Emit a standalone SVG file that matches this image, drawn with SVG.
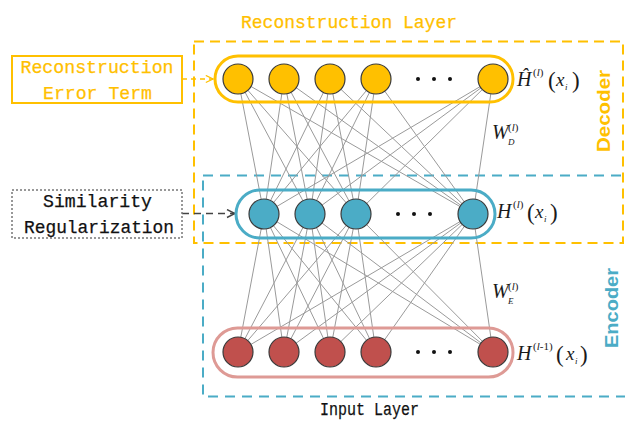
<svg xmlns="http://www.w3.org/2000/svg" width="625" height="421" viewBox="0 0 625 421">
  <defs>
    <style>
      .mono { font-family: "Liberation Mono", "DejaVu Sans Mono", monospace; font-size: 18px; stroke-width: 0.25; }
      .yellow-text { fill: #FFC000; stroke: #FFC000; }
      .dark-text { fill: #111; stroke: #111; }
      .math { font-family: "Liberation Serif", "DejaVu Serif", serif; fill: #1a1a1a; }
      .it { font-style: italic; }
      .edge { stroke: #9a9a9a; stroke-width: 1; fill: none; }
      .node-y { fill: #FFC000; stroke: #3a3a3a; stroke-width: 1.2; }
      .node-b { fill: #4BACC6; stroke: #3a3a3a; stroke-width: 1.2; }
      .node-r { fill: #C0504D; stroke: #3a3a3a; stroke-width: 1.2; }
      .dot { fill: #111; }
      .side { font-family: "Liberation Sans", Arial, sans-serif; font-size: 19px; font-weight: bold; }
    </style>
    <marker id="chev-y" viewBox="0 0 10 10" refX="9" refY="5" markerWidth="9" markerHeight="9" markerUnits="userSpaceOnUse" orient="auto">
      <path d="M1,1 L9,5 L1,9" fill="none" stroke="#FFC000" stroke-width="1.3"/>
    </marker>
    <marker id="chev-g" viewBox="0 0 10 10" refX="9" refY="5" markerWidth="10" markerHeight="10" markerUnits="userSpaceOnUse" orient="auto">
      <path d="M1,1 L9,5 L1,9" fill="none" stroke="#444" stroke-width="1.4"/>
    </marker>
  </defs>

  <rect width="625" height="421" fill="#ffffff"/>

  <!-- decoder / encoder regions -->
  <g id="decoder-region">
    <rect x="194" y="41.5" width="429" height="201.5" fill="none" stroke="#FFC000" stroke-width="2" stroke-dasharray="10,6"/>
    <text class="side" fill="#FFC000" transform="translate(610,111) rotate(-90)" text-anchor="middle" textLength="82" lengthAdjust="spacingAndGlyphs">Decoder</text>
  </g>
  <g id="encoder-region">
    <rect x="203" y="175.5" width="424" height="221" fill="none" stroke="#4BACC6" stroke-width="2" stroke-dasharray="10,7"/>
    <text class="side" fill="#4BACC6" transform="translate(618,308) rotate(-90)" text-anchor="middle" textLength="80" lengthAdjust="spacingAndGlyphs">Encoder</text>
  </g>

  <!-- weight connections -->
  <g id="connectors">
    <g id="decoder-weights" class="edge">
      <line x1="238" y1="79" x2="264" y2="214"/><line x1="238" y1="79" x2="310" y2="214"/><line x1="238" y1="79" x2="356" y2="214"/><line x1="238" y1="79" x2="473" y2="214"/>
      <line x1="284" y1="79" x2="264" y2="214"/><line x1="284" y1="79" x2="310" y2="214"/><line x1="284" y1="79" x2="356" y2="214"/><line x1="284" y1="79" x2="473" y2="214"/>
      <line x1="330" y1="79" x2="264" y2="214"/><line x1="330" y1="79" x2="310" y2="214"/><line x1="330" y1="79" x2="356" y2="214"/><line x1="330" y1="79" x2="473" y2="214"/>
      <line x1="376" y1="79" x2="264" y2="214"/><line x1="376" y1="79" x2="310" y2="214"/><line x1="376" y1="79" x2="356" y2="214"/><line x1="376" y1="79" x2="473" y2="214"/>
      <line x1="493" y1="79" x2="264" y2="214"/><line x1="493" y1="79" x2="310" y2="214"/><line x1="493" y1="79" x2="356" y2="214"/><line x1="493" y1="79" x2="473" y2="214"/>
    </g>
    <g id="encoder-weights" class="edge">
      <line x1="264" y1="214" x2="238" y2="352"/><line x1="264" y1="214" x2="284" y2="352"/><line x1="264" y1="214" x2="330" y2="352"/><line x1="264" y1="214" x2="376" y2="352"/><line x1="264" y1="214" x2="493" y2="352"/>
      <line x1="310" y1="214" x2="238" y2="352"/><line x1="310" y1="214" x2="284" y2="352"/><line x1="310" y1="214" x2="330" y2="352"/><line x1="310" y1="214" x2="376" y2="352"/><line x1="310" y1="214" x2="493" y2="352"/>
      <line x1="356" y1="214" x2="238" y2="352"/><line x1="356" y1="214" x2="284" y2="352"/><line x1="356" y1="214" x2="330" y2="352"/><line x1="356" y1="214" x2="376" y2="352"/><line x1="356" y1="214" x2="493" y2="352"/>
      <line x1="473" y1="214" x2="238" y2="352"/><line x1="473" y1="214" x2="284" y2="352"/><line x1="473" y1="214" x2="330" y2="352"/><line x1="473" y1="214" x2="376" y2="352"/><line x1="473" y1="214" x2="493" y2="352"/>
    </g>
    <line id="error-arrow" x1="182" y1="79" x2="213" y2="79" stroke="#FFC000" stroke-width="1.5" stroke-dasharray="5,4" marker-end="url(#chev-y)"/>
    <line id="similarity-arrow" x1="182" y1="213.5" x2="235" y2="213.5" stroke="#444" stroke-width="1.5" stroke-dasharray="7,5" marker-end="url(#chev-g)"/>
  </g>

  <!-- reconstruction layer -->
  <g id="reconstruction-layer">
    <rect x="215" y="56" width="298" height="46" rx="23" fill="none" stroke="#FFC000" stroke-width="3"/>
    <circle class="node-y" cx="238" cy="79" r="15"/>
    <circle class="node-y" cx="284" cy="79" r="15"/>
    <circle class="node-y" cx="330" cy="79" r="15"/>
    <circle class="node-y" cx="376" cy="79" r="15"/>
    <circle class="node-y" cx="493" cy="79" r="15"/>
    <circle class="dot" cx="418" cy="79" r="2"/><circle class="dot" cx="434" cy="79" r="2"/><circle class="dot" cx="450" cy="79" r="2"/>
  </g>

  <!-- hidden layer -->
  <g id="hidden-layer">
    <rect x="236" y="190" width="259" height="48" rx="24" fill="none" stroke="#4BACC6" stroke-width="3"/>
    <circle class="node-b" cx="264" cy="214" r="15"/>
    <circle class="node-b" cx="310" cy="214" r="15"/>
    <circle class="node-b" cx="356" cy="214" r="15"/>
    <circle class="node-b" cx="473" cy="214" r="15"/>
    <circle class="dot" cx="398" cy="214" r="2"/><circle class="dot" cx="414" cy="214" r="2"/><circle class="dot" cx="430" cy="214" r="2"/>
  </g>

  <!-- input layer -->
  <g id="input-layer">
    <rect x="213" y="328" width="300" height="49" rx="24.5" fill="none" stroke="#DE9A95" stroke-width="3"/>
    <circle class="node-r" cx="238" cy="352" r="15"/>
    <circle class="node-r" cx="284" cy="352" r="15"/>
    <circle class="node-r" cx="330" cy="352" r="15"/>
    <circle class="node-r" cx="376" cy="352" r="15"/>
    <circle class="node-r" cx="493" cy="352" r="15"/>
    <circle class="dot" cx="418" cy="352" r="2"/><circle class="dot" cx="434" cy="352" r="2"/><circle class="dot" cx="450" cy="352" r="2"/>
  </g>

  <!-- titles -->
  <text id="title-recon" class="mono yellow-text" x="241" y="28" textLength="216" lengthAdjust="spacingAndGlyphs">Reconstruction Layer</text>
  <text id="title-input" class="mono dark-text" x="320" y="415" font-size="16" textLength="99" lengthAdjust="spacingAndGlyphs">Input Layer</text>

  <!-- side boxes -->
  <g id="error-term-box">
    <rect x="12" y="56" width="170" height="47" fill="#fff" stroke="#FFC000" stroke-width="2"/>
    <text class="mono yellow-text" x="97" y="73" text-anchor="middle" textLength="153" lengthAdjust="spacingAndGlyphs">Reconstruction</text>
    <text class="mono yellow-text" x="97.5" y="99" text-anchor="middle" textLength="109" lengthAdjust="spacingAndGlyphs">Error Term</text>
  </g>
  <g id="similarity-box">
    <rect x="12" y="190" width="170" height="48" fill="#fff" stroke="#777" stroke-width="1.5" stroke-dasharray="2,2"/>
    <text class="mono dark-text" x="97.5" y="207" text-anchor="middle" textLength="109" lengthAdjust="spacingAndGlyphs">Similarity</text>
    <text class="mono dark-text" x="99" y="233" text-anchor="middle" textLength="150" lengthAdjust="spacingAndGlyphs">Regularization</text>
  </g>

  <!-- math labels -->
  <g id="label-recon" class="math">
    <text class="it" x="517" y="86" font-size="20">Ĥ</text>
    <text x="533" y="76" font-size="11">(<tspan class="it">l</tspan>)</text>
    <text x="548" y="88" font-size="23">(</text>
    <text class="it" x="556" y="86" font-size="19">x</text>
    <text class="it" x="565" y="90" font-size="9">i</text>
    <text x="572" y="88" font-size="23">)</text>
  </g>
  <g id="label-hidden" class="math">
    <text class="it" x="497" y="218" font-size="20">H</text>
    <text x="513" y="208" font-size="11">(<tspan class="it">l</tspan>)</text>
    <text x="527" y="220" font-size="23">(</text>
    <text class="it" x="535" y="218" font-size="19">x</text>
    <text class="it" x="544" y="222" font-size="9">i</text>
    <text x="550" y="220" font-size="23">)</text>
  </g>
  <g id="label-input" class="math">
    <text class="it" x="517" y="360" font-size="20">H</text>
    <text x="533" y="350" font-size="11">(<tspan class="it">l</tspan>-1)</text>
    <text x="556" y="362" font-size="23">(</text>
    <text class="it" x="566" y="360" font-size="19">x</text>
    <text class="it" x="575" y="364" font-size="9">i</text>
    <text x="580" y="362" font-size="23">)</text>
  </g>
  <g id="label-wd" class="math">
    <text class="it" x="492" y="139" font-size="20">W</text>
    <text x="508" y="131" font-size="11">(<tspan class="it">l</tspan>)</text>
    <text class="it" x="508" y="145" font-size="9">D</text>
  </g>
  <g id="label-we" class="math">
    <text class="it" x="492" y="298" font-size="20">W</text>
    <text x="508" y="290" font-size="11">(<tspan class="it">l</tspan>)</text>
    <text class="it" x="508" y="304" font-size="9">E</text>
  </g>
</svg>
